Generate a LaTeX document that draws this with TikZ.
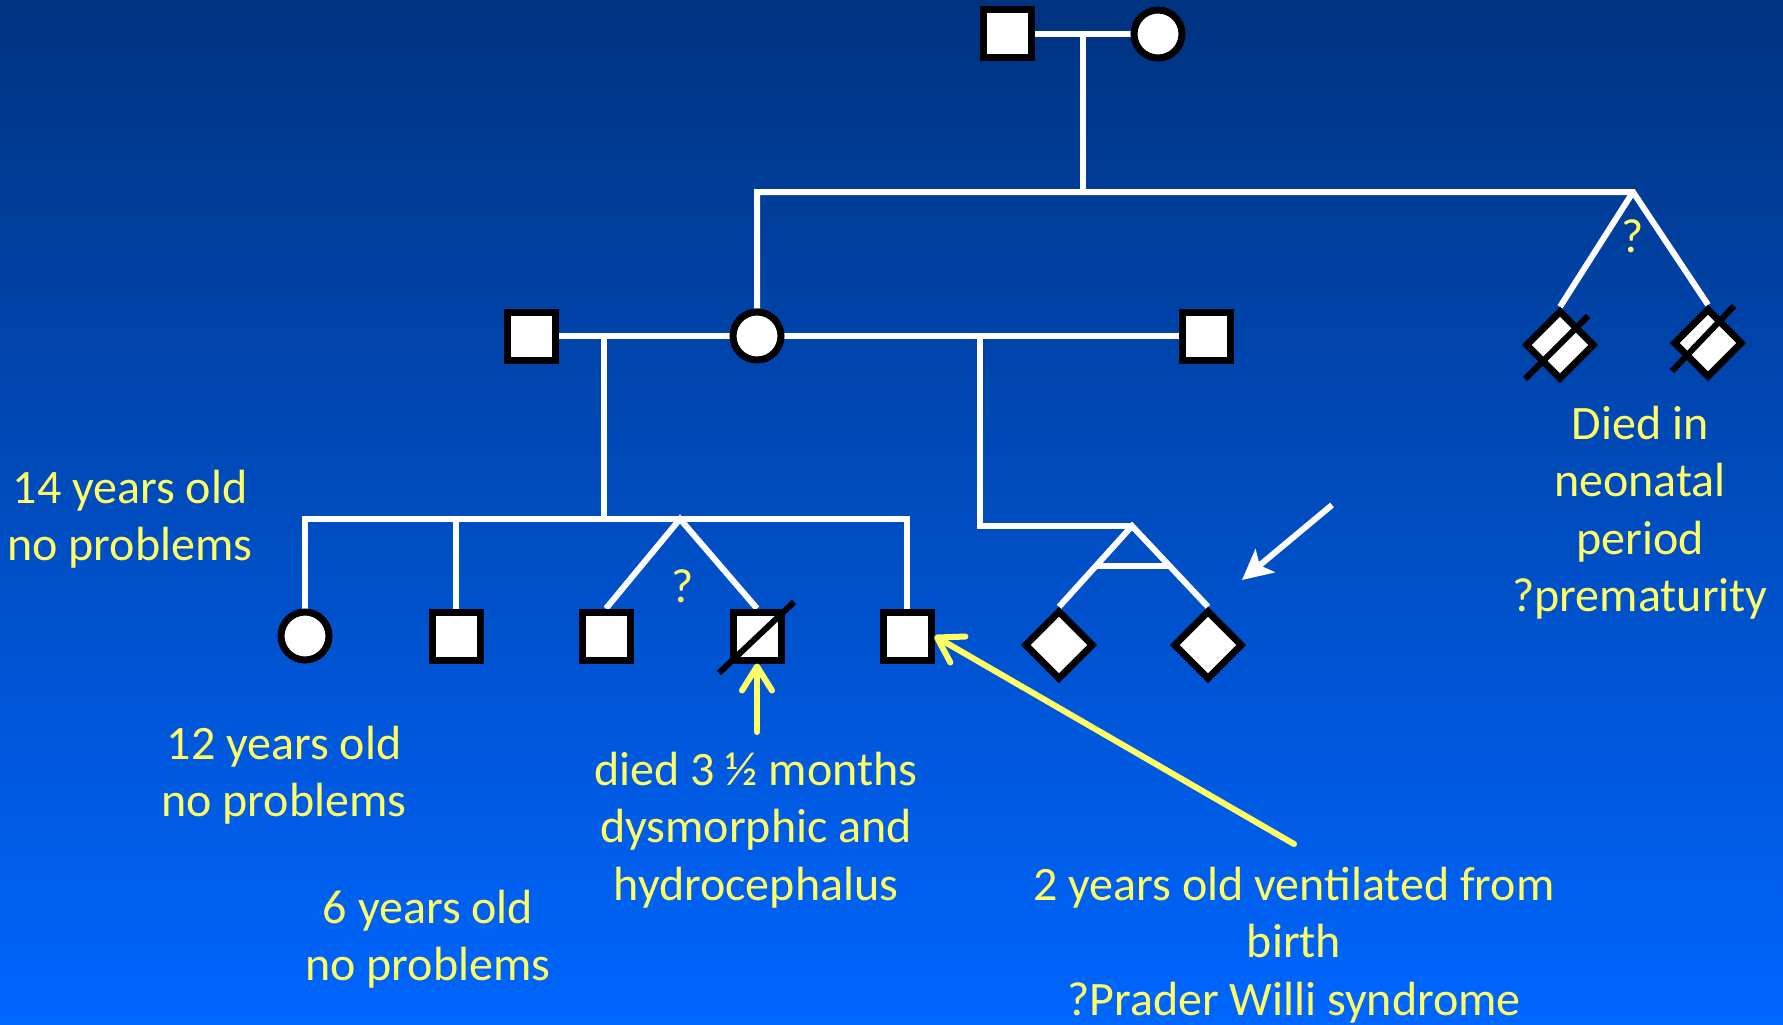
\documentclass[tikz,border=0pt]{standalone}
\usepackage{fontspec}
\setmainfont{Carlito}
\usetikzlibrary{arrows.meta,calc,backgrounds}
\definecolor{navytop}{HTML}{003380}
\definecolor{bluebottom}{HTML}{0066FF}
\definecolor{noteyellow}{HTML}{FFFF66}

\begin{document}
\begin{tikzpicture}[x=1pt,y=-1pt,
  person/.style={draw=black, fill=white, line width=7pt, inner sep=0pt, minimum size=48pt},
  male/.style={person, rectangle},
  female/.style={person, circle},
  unknown/.style={person, rectangle, minimum size=47pt, rotate=45},
  link/.style={draw=white, line width=6pt},
  slash/.style={draw=black, line width=6pt},
  note/.style={text=noteyellow, font=\fontsize{48}{57.5}\selectfont, align=center, anchor=base, inner sep=0pt},
  pointer/.style={draw=noteyellow, line width=6pt, line cap=round,
    -{Straight Barb[length=24pt,width=30pt,round]}},
  whitepointer/.style={draw=white, line width=6pt,
    -{Stealth[length=30pt,width=30pt,inset=7pt]}}
]
\useasboundingbox (0,0) rectangle (1783,1025);
\begin{scope}[on background layer]
  \shade[top color=navytop, bottom color=bluebottom] (0,0) rectangle (1783,1025);
\end{scope}

% generation I
\node[male]   (f1) at (1007,34) {};
\node[female] (m1) at (1158,34) {};
% generation II
\node[male]    (h1) at (531,336) {};
\node[female]  (m2) at (757,336) {};
\node[male]    (h2) at (1206,336) {};
\node[unknown] (u1) at (1560,345) {};
\node[unknown] (u2) at (1708,343) {};
% generation III
\node[female]  (c1) at (305,636) {};
\node[male]    (c2) at (456,636) {};
\node[male]    (c3) at (606,636) {};
\node[male]    (c4) at (757,636) {};
\node[male]    (c5) at (907,636) {};
\node[unknown] (t1) at (1059,645) {};
\node[unknown] (t2) at (1208,645) {};

% line junctions
\coordinate (d1) at (1083,34);
\coordinate (s1) at (1083,192);
\coordinate (ap1) at (1633,192);
\coordinate (d2) at (604,336);
\coordinate (s2) at (604,519);
\coordinate (l2) at (305,519);
\coordinate (r2) at (907,519);
\coordinate (ap2) at (680,519);
\coordinate (d3) at (980,336);
\coordinate (ap3) at (1132,526);

\begin{scope}[on background layer]
  \draw[link] (f1) -- (m1);
  \draw[link] (d1) -- (s1);
  \draw[link] (m2) |- (ap1) -- (u2.north east);
  \draw[link] (ap1) -- (u1.north east);
  \draw[link] (h1) -- (h2);
  \draw[link] (d2) -- (s2);
  \draw[link] (c1) |- (r2) -- (c5);
  \draw[link] (c2) -- (c2 |- l2);
  \draw[link] (c3.north) -- (ap2) -- (c4.north);
  \draw[link] (d3) |- (ap3);
  \draw[link] (t1.north east) -- (ap3) -- (t2.north east);
  \draw[link] ($(ap3)!0.49!(t1.north east)$) -- ($(ap3)!0.49!(t2.north east)$);
\end{scope}

% deceased
\draw[slash] ($(c4)+(-38,37)$) -- ($(c4)+(37,-34)$);
\draw[slash] ($(u1)+(-35,34)$) -- ($(u1)+(28,-29)$);
\draw[slash] ($(u2)+(-36,28)$) -- ($(u2)+(26,-37)$);

% question marks for zygosity
\node[note] (q1) at (1633,252) {?};
\node[note] (q2) at (683,602) {?};

% annotations (anchored on the baseline of their last line)
\node[note] (n1) at (130,560.5) {14 years old\\no problems};
\node[note] (n2) at (284,816.5) {12 years old\\no problems};
\node[note] (n3) at (428,980.5) {6 years old\\no problems};
\node[note] (n4) at (756,900) {died 3 ½ months\\dysmorphic and\\hydrocephalus};
\node[note] (n5) at (1294,1015) {2 years old ventilated from\\birth\\?Prader Willi syndrome};
\node[note] (n6) at (1640,611.5) {Died in\\neonatal\\period\\?prematurity};

% pointers
\coordinate (pa) at (757,732);
\coordinate (pb) at (1294,844);
\coordinate (pc) at (1332,505);
\draw[pointer] (pa) -- (c4.south);
\draw[pointer] (pb) -- (c5.east);
\draw[whitepointer] (pc) -- (1242,580);
\end{tikzpicture}
\end{document}
